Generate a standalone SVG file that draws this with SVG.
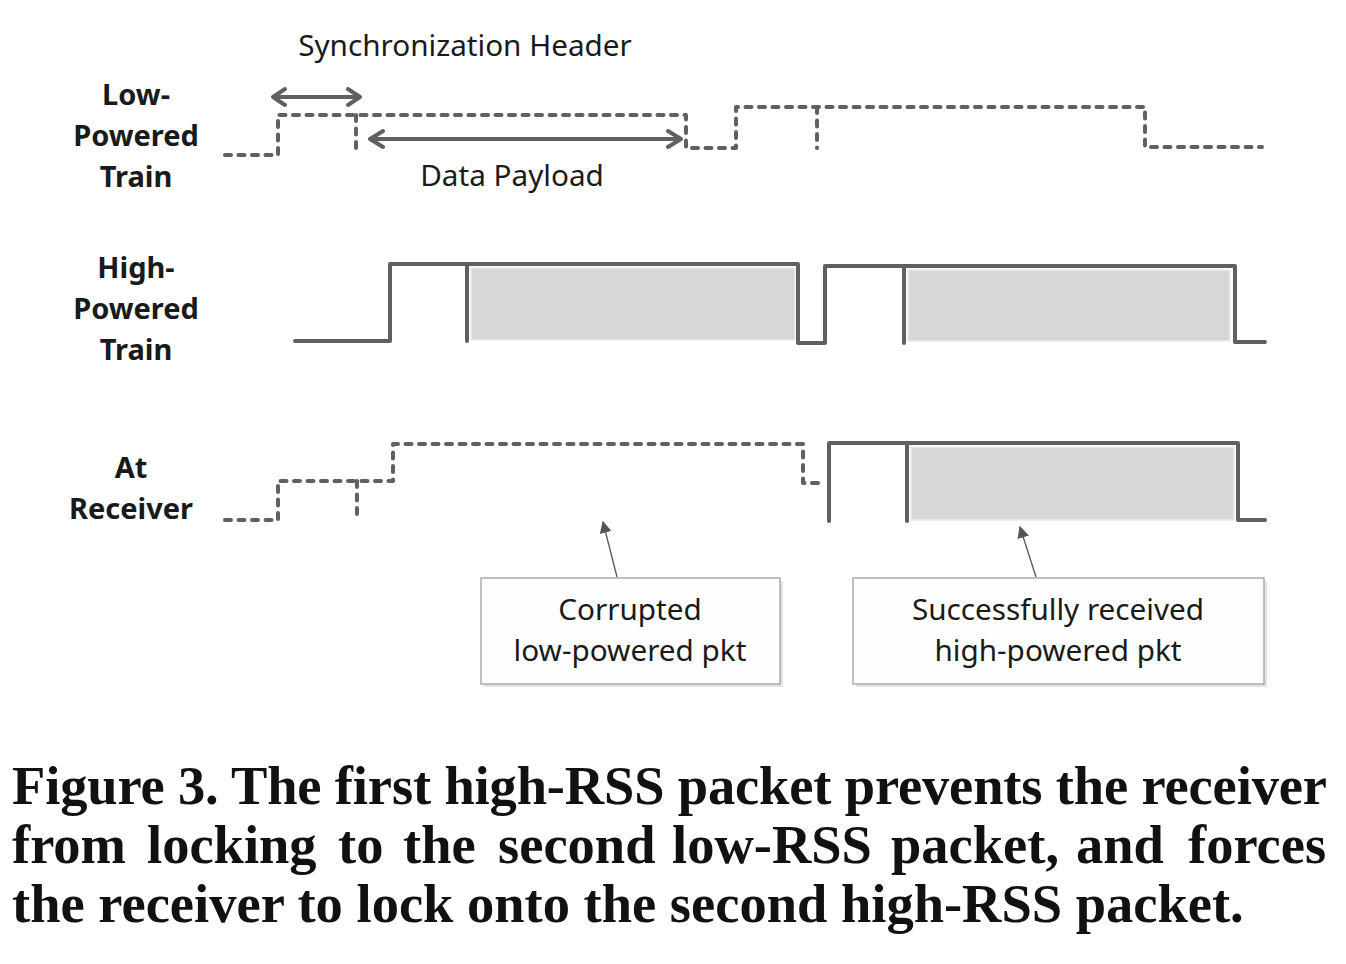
<svg xmlns="http://www.w3.org/2000/svg" width="1346" height="964" viewBox="0 0 1346 964">
<defs>
<style>
.lbl{font-family:"Noto Sans","Open Sans","Liberation Sans",sans-serif;font-size:29px;font-weight:bold;fill:#1a1a1a;text-anchor:middle}
.txt{font-family:"Noto Sans","Open Sans","Liberation Sans",sans-serif;font-size:29.7px;fill:#1a1a1a;text-anchor:middle}
.cap{font-family:"Liberation Serif","Times New Roman",serif;font-size:54.5px;font-weight:bold;fill:#111}
.solid{fill:none;stroke:#606060;stroke-width:4;stroke-linejoin:round;stroke-linecap:round}
.dash{fill:none;stroke:#606060;stroke-width:4;stroke-linejoin:round;stroke-linecap:round;stroke-dasharray:6 7.5}
.pkt{fill:#d7d7d7;stroke:#ececec;stroke-width:1.5}
.box{fill:#fefefe;stroke:#a0a0a0;stroke-width:1.3}
.shadow{fill:#e4e4e4}
.dim{fill:none;stroke:#606060;stroke-width:4;stroke-linecap:round;stroke-linejoin:round}
.call{stroke:#555;stroke-width:1.3;fill:none}
</style>
<marker id="tri" viewBox="0 0 10 10" refX="9" refY="5" markerWidth="12" markerHeight="12" markerUnits="userSpaceOnUse" orient="auto">
<path d="M0,0 L10,5 L0,10 z" fill="#555"/>
</marker>
</defs>
<rect width="1346" height="964" fill="#fff"/>

<g id="label-low">
<text class="lbl" x="136" y="105">Low-</text>
<text class="lbl" x="136" y="146">Powered</text>
<text class="lbl" x="136" y="187">Train</text>
</g>
<g id="label-high">
<text class="lbl" x="136" y="278">High-</text>
<text class="lbl" x="136" y="319">Powered</text>
<text class="lbl" x="136" y="360">Train</text>
</g>
<g id="label-rx">
<text class="lbl" x="131" y="478">At</text>
<text class="lbl" x="131" y="519">Receiver</text>
</g>

<g id="low-train">
<path class="dash" d="M225,155 H278 V115 H686 V148 H736 V107 H1145 V147 H1262"/>
<path class="dash" d="M356,115 V155"/>
<path class="dash" d="M817,107 V148"/>
</g>

<g id="high-train">
<rect class="pkt" x="471" y="268" width="324" height="72"/>
<rect class="pkt" x="908" y="270" width="322" height="71"/>
<path class="solid" d="M295,341 H390 V264 H798 V343 H825 V266 H1235 V342 H1265"/>
<path class="solid" d="M467,264 V341"/>
<path class="solid" d="M904,266 V343"/>
</g>

<g id="receiver">
<rect class="pkt" x="911" y="447" width="323" height="73"/>
<path class="dash" d="M225,520 H278 V481 H393 V444 H803 V483 H822"/>
<path class="dash" d="M357,481 V520"/>
<path class="solid" d="M829,521 V443 H1238 V520 H1265"/>
<path class="solid" d="M907,443 V521"/>
</g>

<g id="sync-header">
<text class="txt" x="465" y="56">Synchronization Header</text>
</g>
<g id="data-payload">
<text class="txt" x="512" y="186">Data Payload</text>
</g>

<g id="box-corrupted">
<rect class="shadow" x="484" y="581" width="299" height="106"/>
<rect class="box" x="481" y="578" width="299" height="106"/>
<text class="txt" x="630" y="620">Corrupted</text>
<text class="txt" x="630" y="661">low-powered pkt</text>
</g>
<g id="box-success">
<rect class="shadow" x="856" y="581" width="411" height="106"/>
<rect class="box" x="853" y="578" width="411" height="106"/>
<text class="txt" x="1058" y="620">Successfully received</text>
<text class="txt" x="1058" y="661">high-powered pkt</text>
</g>

<g id="connectors">
<path class="dim" d="M273,97 H360 M285,89 L273,97 L285,105 M348,89 L360,97 L348,105"/>
<path class="dim" d="M370,139 H681 M383,131 L370,139 L383,147 M668,131 L681,139 L668,147"/>
<line class="call" x1="617" y1="577" x2="603" y2="522" marker-end="url(#tri)"/>
<line class="call" x1="1036" y1="577" x2="1020" y2="527" marker-end="url(#tri)"/>
</g>

<g id="caption">
<text class="cap" x="12" y="804" textLength="1315" lengthAdjust="spacing">Figure 3. The first high-RSS packet prevents the receiver</text>
<text class="cap" y="863"><tspan x="12">from</tspan><tspan x="147">locking</tspan><tspan x="338">to</tspan><tspan x="403">the</tspan><tspan x="498">second</tspan><tspan x="672">low-RSS</tspan><tspan x="891">packet,</tspan><tspan x="1076">and</tspan><tspan x="1188">forces</tspan></text>
<text class="cap" x="12" y="922">the receiver to lock onto the second high-RSS packet.</text>
</g>
</svg>
